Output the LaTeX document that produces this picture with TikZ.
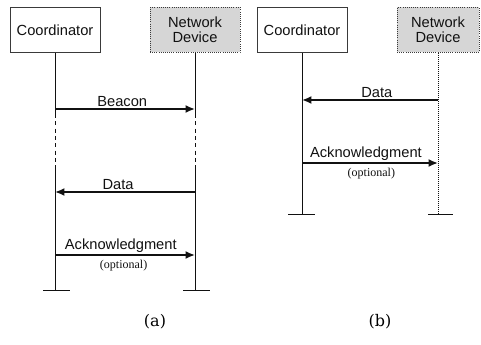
\documentclass[tikz,border=0pt]{standalone}
\usepackage{fontspec}
\setsansfont{Liberation Sans}
\newfontfamily\optfont{Liberation Serif}
\newfontfamily\capfont{DejaVu Serif}
\usepackage{tikz}
\usetikzlibrary{arrows.meta,positioning,calc}
\definecolor{cInk}{HTML}{111111}
\definecolor{cLine}{HTML}{3A3A3A}
\definecolor{cShade}{HTML}{D6D6D6}
\tikzset{
  ubox/.style={draw=cLine,fill=#1,line width=0.6pt,align=center,font=\sffamily\fontsize{11}{11.5}\selectfont,text=cInk,inner sep=2pt,minimum height=45*0.75pt},
  ubox/.default=white,
  dbox/.style={ubox=cShade,densely dotted},
  life/.style={line width=0.7pt,color=cInk},
  lifed/.style={life,dash pattern=on 3pt off 2.5pt},
  msg/.style={-{Latex[length=7pt,width=6pt]},line width=2pt,color=cInk},
  mlbl/.style={font=\sffamily\fontsize{11}{12}\selectfont,text=cInk,inner sep=1pt},
  olbl/.style={font=\optfont\fontsize{9}{10}\selectfont,text=cInk,inner sep=1pt},
}

\begin{document}
\begin{tikzpicture}[x=0.75pt,y=-0.75pt]
    \useasboundingbox (0,0) rectangle (481,345);
    % (a) beacon-enabled
    \node[ubox,minimum width=90*0.75pt] (coordA) at (55,30) {Coordinator};
    \node[dbox,minimum width=90*0.75pt] (devA) at (195,30) {Network\\Device};
    \coordinate (cA1) at (55,109);   \coordinate (dA1) at (195,109);
    \coordinate (cA2) at (55,192);   \coordinate (dA2) at (195,192);
    \coordinate (cA3) at (55,255);   \coordinate (dA3) at (195,255);
    \coordinate (cAend) at (55,290); \coordinate (dAend) at (195,290);
    \draw[life] (coordA.south) -- (55,114);
    \draw[lifed] (55,114) -- (55,166);
    \draw[life] (55,166) -- (cAend);
    \draw[life,line width=0.5pt] (devA.south) -- (195,114);
    \draw[lifed,line width=0.5pt] (195,114) -- (195,166);
    \draw[life,line width=0.5pt] (195,166) -- (dAend);
    \draw[life,line width=0.5pt] ($(cAend)+(-12,0)$) -- ($(cAend)+(15,0)$);
    \draw[life,line width=0.5pt] ($(dAend)+(-12,0)$) -- ($(dAend)+(15,0)$);
    \draw[msg] (cA1) -- node[mlbl,above,pos=0.48] (beacon) {Beacon} (dA1);
    \draw[msg] (dA2) -- node[mlbl,above,pos=0.55] (dataA) {Data} (cA2);
    \draw[msg] (cA3) -- node[mlbl,above,pos=0.47] (ackA) {Acknowledgment}
                        node[olbl,below=2pt,pos=0.49] (optA) {(optional)} (dA3);
    \node[font=\capfont\fontsize{12}{14}\selectfont] (capA) at (155,322) {(a)};
    % (b) non-beacon
    \node[ubox,minimum width=90*0.75pt] (coordB) at (302,30) {Coordinator};
    \node[dbox,minimum width=82*0.75pt] (devB) at (438,30) {Network\\Device};
    \coordinate (cB1) at (302,100);  \coordinate (dB1) at (438,100);
    \coordinate (cB2) at (302,163);  \coordinate (dB2) at (438,163);
    \coordinate (cBend) at (302,214); \coordinate (dBend) at (438,214);
    \draw[life] (coordB.south) -- (cBend);
    \draw[life,line width=0.5pt,densely dotted] (devB.south) -- (dBend);
    \draw[life,line width=0.5pt] ($(cBend)+(-14,0)$) -- ($(cBend)+(13,0)$);
    \draw[life,line width=0.5pt] ($(dBend)+(-10,0)$) -- ($(dBend)+(15,0)$);
    \draw[msg] (dB1) -- node[mlbl,above,pos=0.45] (dataB) {Data} (cB1);
    \draw[msg] (cB2) -- node[mlbl,above,pos=0.47] (ackB) {Acknowledgment}
                        node[olbl,below=2pt,pos=0.51] (optB) {(optional)} (dB2);
    \node[font=\capfont\fontsize{12}{14}\selectfont] (capB) at (380,322) {(b)};
\end{tikzpicture}
\end{document}
